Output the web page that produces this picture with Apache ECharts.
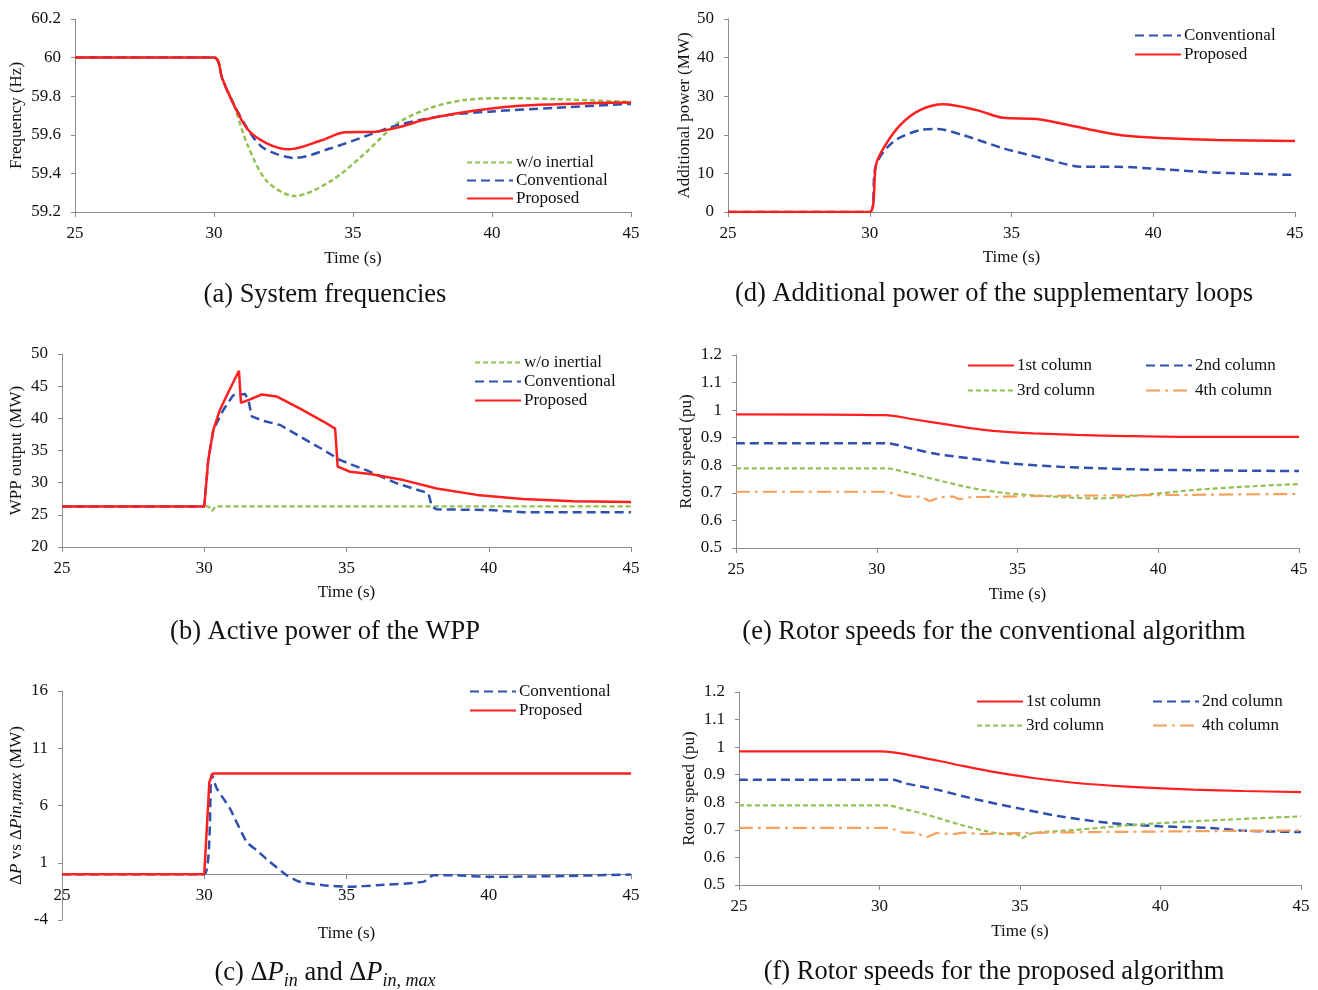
<!DOCTYPE html>
<html>
<head>
<meta charset="utf-8">
<script src="https://cdn.jsdelivr.net/npm/echarts@6/dist/echarts.min.js"></script>
<style>
  html, body { margin: 0; padding: 0; background: #fff; }
  #main { width: 1318px; height: 990px; }
</style>
</head>
<body>
<div id="main"></div>
<script>
  // (a) system frequencies
  let aTimeWo = [25, 30, 30.3, 30.7, 31.2, 31.9, 32.9, 34.2, 35.4, 36.6, 37.8, 39, 40.4, 42.3, 45]
  let aWo = [60, 60, 59.89, 59.76, 59.55, 59.36, 59.283, 59.36, 59.5, 59.66, 59.74, 59.78, 59.79, 59.785, 59.77]
  let aTimeConv = [25, 30, 30.3, 30.6, 31.3, 31.8, 32.9, 34.2, 35.4, 36.6, 38.3, 39.9, 42.3, 45]
  let aConv = [60, 60, 59.89, 59.79, 59.61, 59.53, 59.48, 59.53, 59.59, 59.65, 59.70, 59.72, 59.74, 59.76]
  let aTimeProp = [25, 30, 30.3, 30.6, 31.2, 31.9, 32.7, 33.9, 34.7, 35.8, 36.6, 37.5, 38.7, 39.9, 41, 42.3, 43.5, 45]
  let aProp = [60, 60, 59.89, 59.79, 59.63, 59.556, 59.525, 59.573, 59.613, 59.616, 59.637, 59.675, 59.71, 59.735, 59.75, 59.758, 59.764, 59.768]

  // (d) additional power
  let dTimeConv = [25, 30, 30.22, 30.83, 31.77, 32.36, 33.3, 34.71, 36.12, 37.54, 38.71, 40.47, 42.24, 45]
  let dConv = [0, 0, 12.2, 18.2, 21.2, 21.5, 19.9, 16.5, 13.9, 11.7, 11.7, 11.0, 10.2, 9.6]
  let dTimeProp = [25, 30, 30.22, 30.48, 31.07, 31.77, 32.6, 33.77, 34.71, 35.89, 37.54, 38.95, 40.47, 42.24, 45]
  let dProp = [0, 0, 12.2, 16.5, 22.5, 26.4, 27.9, 26.4, 24.4, 24.1, 21.7, 19.8, 19.1, 18.65, 18.4]

  // (b) active power of the WPP
  let bTimeWo = [25, 30.15, 30.27, 30.4, 45]
  let bWo = [26.3, 26.3, 25.6, 26.3, 26.3]
  let bTimeConv = [25, 30, 30.14, 30.32, 30.67, 31.02, 31.43, 31.55, 31.67, 32.08, 32.67, 33.37, 34.19, 34.78, 35.72, 36.77, 37.88, 38.0, 38.17, 40.04, 41.2, 45]
  let bConv = [26.3, 26.3, 33.5, 38.2, 41.3, 43.6, 43.8, 42.9, 40.3, 39.6, 38.96, 37.15, 35.1, 33.5, 31.9, 29.9, 28.35, 26.3, 25.85, 25.75, 25.4, 25.4]
  let bTimeProp = [25, 30, 30.14, 30.32, 30.55, 30.85, 31.22, 31.29, 31.61, 32.02, 32.54, 33.37, 34.19, 34.6, 34.69, 35.13, 35.83, 37.0, 38.17, 39.58, 41.2, 42.97, 45]
  let bProp = [26.3, 26.3, 33.5, 38.2, 41.3, 44.1, 47.4, 42.4, 42.95, 43.7, 43.4, 41.5, 39.5, 38.4, 32.5, 31.7, 31.35, 30.4, 29.1, 28.1, 27.45, 27.1, 27.0]

  // (e) rotor speeds, conventional
  let eTime1 = [25, 30.3, 31.3, 32.36, 33.31, 34.38, 35.56, 37.1, 38.88, 41.24, 45]
  let e1 = [0.985, 0.982, 0.967, 0.95, 0.935, 0.923, 0.916, 0.91, 0.906, 0.903, 0.903]
  let eTime2 = [25, 30.35, 31.18, 32.13, 33.31, 34.73, 36.5, 38.88, 41.24, 45]
  let e2 = [0.88, 0.88, 0.862, 0.841, 0.825, 0.807, 0.795, 0.786, 0.782, 0.779]
  let eTime3 = [25, 30.3, 30.94, 32.13, 33.31, 34.5, 35.92, 37.7, 38.4, 39.82, 41.24, 43.0, 45]
  let e3 = [0.789, 0.789, 0.777, 0.747, 0.719, 0.70, 0.689, 0.68, 0.682, 0.696, 0.71, 0.722, 0.732]
  let eTime4 = [25, 30.3, 30.58, 31.06, 31.54, 31.89, 32.25, 32.7, 32.96, 33.31, 34.38, 35.92, 38.88, 41.24, 45]
  let e4 = [0.704, 0.704, 0.698, 0.686, 0.686, 0.671, 0.684, 0.686, 0.677, 0.684, 0.686, 0.689, 0.691, 0.693, 0.696]

  // (c) delta P in / delta P in,max
  let cTimeConv = [25, 30, 30.26, 30.44, 30.9, 31.49, 31.84, 32.31, 32.9, 33.37, 34.19, 35.13, 36.07, 37.7, 38.05, 38.87, 40.04, 42.4, 45]
  let cConv = [0, 0, 8.7, 7.5, 5.74, 2.82, 2.1, 1.07, -0.09, -0.67, -0.96, -1.1, -0.96, -0.67, -0.09, -0.1, -0.23, -0.17, -0.03]
  let cTimeProp = [25, 30, 30.18, 30.3, 45]
  let cProp = [0, 0, 8.06, 8.8, 8.8]

  // (f) rotor speeds, proposed
  let fTime1 = [25, 30.02, 30.49, 31.44, 32.63, 34.05, 35.47, 37.01, 38.8, 41.17, 42.95, 45]
  let f1 = [0.985, 0.985, 0.981, 0.964, 0.939, 0.91, 0.888, 0.87, 0.857, 0.846, 0.841, 0.837]
  let fTime2 = [25, 30.5, 30.85, 32.04, 33.46, 35.0, 36.42, 38.2, 39.98, 41.76, 42.95, 45]
  let f2 = [0.882, 0.882, 0.87, 0.846, 0.81, 0.777, 0.749, 0.725, 0.713, 0.707, 0.697, 0.692]
  let fTime3 = [25, 30.3, 30.73, 31.68, 32.86, 33.81, 34.4, 34.9, 35.06, 35.35, 35.83, 37.01, 38.8, 40.58, 42.36, 45]
  let f3 = [0.789, 0.789, 0.779, 0.755, 0.719, 0.695, 0.685, 0.684, 0.67, 0.685, 0.692, 0.70, 0.716, 0.728, 0.737, 0.749]
  let fTime4 = [25, 30.3, 30.49, 30.85, 31.3, 31.68, 32.04, 32.63, 32.99, 33.58, 35.24, 38.8, 45]
  let f4 = [0.707, 0.707, 0.702, 0.691, 0.689, 0.674, 0.688, 0.685, 0.69, 0.685, 0.689, 0.693, 0.698]

  let timeTicks = { min: 25, max: 45, interval: 5 }

  const FONT = "'Liberation Serif', 'Times New Roman', serif"
  const FS = 17
  const CAP = 26.5
  const RED = '#ff1f1f'
  const BLUE = '#3050ae'
  const GREEN = '#93c052'
  const ORANGE = '#f5a05c'
  const SOLID = 'solid'
  const DASH = [9, 5]
  const SHORT = [5, 3]
  const DASHDOT = [14, 5, 3, 5]

  function zip(t, v) {
    return t.map((x, i) => [x, v[i]])
  }

  function line(name, idx, t, v, color, width, type, smooth) {
    return {
      name: name,
      type: 'line',
      xAxisIndex: idx,
      yAxisIndex: idx,
      data: zip(t, v),
      symbol: 'none',
      smooth: smooth,
      lineStyle: { color: color, width: width, type: type },
      itemStyle: { color: color },
      z: color === RED ? 3 : 2
    }
  }

  function xAxis(idx, gap, offset) {
    return {
      type: 'value',
      gridIndex: idx,
      min: timeTicks.min,
      max: timeTicks.max,
      interval: timeTicks.interval,
      offset: offset || 0,
      name: 'Time (s)',
      nameLocation: 'middle',
      nameGap: gap,
      nameTextStyle: { fontFamily: FONT, fontSize: FS, color: '#111' },
      axisLine: { onZero: false, lineStyle: { color: '#8c8c8c', width: 1 } },
      axisTick: { show: true, length: 5, lineStyle: { color: '#8c8c8c' } },
      axisLabel: { fontFamily: FONT, fontSize: FS, color: '#111', margin: 13 },
      splitLine: { show: false }
    }
  }

  function yAxis(idx, min, max, interval, name, gap, rich) {
    let ax = {
      type: 'value',
      gridIndex: idx,
      min: min,
      max: max,
      interval: interval,
      name: name,
      nameLocation: 'middle',
      nameGap: gap,
      nameTextStyle: { fontFamily: FONT, fontSize: FS, color: '#111' },
      axisLine: { show: true, lineStyle: { color: '#8c8c8c', width: 1 } },
      axisTick: { show: true, length: 4, lineStyle: { color: '#8c8c8c' } },
      axisLabel: { fontFamily: FONT, fontSize: FS, color: '#111', margin: 14 },
      splitLine: { show: false }
    }
    if (rich) ax.nameTextStyle.rich = rich
    return ax
  }

  function legend(names, left, top, gap) {
    return {
      data: names,
      orient: 'vertical',
      left: left,
      top: top,
      itemWidth: 46,
      itemHeight: 10,
      itemGap: gap,
      selectedMode: false,
      itemStyle: { opacity: 0 },
      textStyle: { fontFamily: FONT, fontSize: FS, color: '#111', padding: [0, 0, 0, -2] }
    }
  }

  function caption(text, x, y) {
    return {
      type: 'text',
      x: x,
      y: y,
      style: {
        text: text,
        fontFamily: FONT,
        fontSize: CAP,
        fill: '#111',
        align: 'center',
        verticalAlign: 'middle',
        rich: {
          n: { fontFamily: FONT, fontSize: CAP, fill: '#111', lineHeight: 34 },
          i: { fontFamily: FONT, fontSize: CAP, fill: '#111', fontStyle: 'italic', lineHeight: 34 },
          s: { fontFamily: FONT, fontSize: 18, fill: '#111', fontStyle: 'italic', lineHeight: 34, verticalAlign: 'bottom' }
        }
      }
    }
  }

  let myChart = echarts.init(document.getElementById('main'), null, { renderer: 'canvas' })

  let option = {
    animation: false,
    backgroundColor: '#fff',
    grid: [
      { left: 75, top: 19, width: 556, height: 193 },
      { left: 728, top: 19, width: 567, height: 193 },
      { left: 62, top: 354, width: 569, height: 193 },
      { left: 736, top: 355, width: 563, height: 193 },
      { left: 62, top: 691, width: 569, height: 229 },
      { left: 739, top: 692, width: 562, height: 193 }
    ],
    xAxis: [
      xAxis(0, 38), xAxis(1, 37), xAxis(2, 37), xAxis(3, 38), xAxis(4, 51, -46), xAxis(5, 38)
    ],
    yAxis: [
      yAxis(0, 59.2, 60.2, 0.2, 'Frequency (Hz)', 50),
      yAxis(1, 0, 50, 10, 'Additional power (MW)', 35),
      yAxis(2, 20, 50, 5, 'WPP output (MW)', 37),
      yAxis(3, 0.5, 1.2, 0.1, 'Rotor speed (pu)', 41),
      yAxis(4, -4, 16, 5, '{n|Δ}{i|P}{n| vs Δ}{i|Pin,max}{n| (MW)}', 37, {
        n: { fontFamily: FONT, fontSize: FS, color: '#111' },
        i: { fontFamily: FONT, fontSize: FS, color: '#111', fontStyle: 'italic' }
      }),
      yAxis(5, 0.5, 1.2, 0.1, 'Rotor speed (pu)', 41)
    ],
    legend: [
      legend(['w/o inertial', 'Conventional', 'Proposed'], 461, 149, 1),
      legend(['Conventional ', 'Proposed '], 1129, 22, 2),
      legend(['w/o inertial  ', 'Conventional  ', 'Proposed  '], 469, 349, 2),
      legend(['1st column', '3rd column'], 962, 352, 8),
      legend(['2nd column', '4th column'], 1140, 352, 8),
      legend(['Conventional   ', 'Proposed   '], 464, 678, 2),
      legend(['1st column ', '3rd column '], 971, 688, 7),
      legend(['2nd column ', '4th column '], 1147, 688, 7)
    ],
    graphic: [
      caption('(a) System frequencies', 325, 295),
      caption('(d) Additional power of the supplementary loops', 994, 294),
      caption('(b) Active power of the WPP', 325, 632),
      caption('(e) Rotor speeds for the conventional algorithm', 994, 632),
      caption('{n|(c) Δ}{i|P}{s|in}{n| and Δ}{i|P}{s|in, max}', 325, 973),
      caption('(f) Rotor speeds for the proposed algorithm', 994, 972)
    ],
    series: [
      line('w/o inertial', 0, aTimeWo, aWo, GREEN, 2.5, SHORT, 0.3),
      line('Conventional', 0, aTimeConv, aConv, BLUE, 2.5, DASH, 0.3),
      line('Proposed', 0, aTimeProp, aProp, RED, 2.5, SOLID, 0.3),

      line('Conventional ', 1, dTimeConv, dConv, BLUE, 2.5, DASH, 0.3),
      line('Proposed ', 1, dTimeProp, dProp, RED, 2.5, SOLID, 0.3),

      line('w/o inertial  ', 2, bTimeWo, bWo, GREEN, 2.2, SHORT, false),
      line('Conventional  ', 2, bTimeConv, bConv, BLUE, 2.5, DASH, false),
      line('Proposed  ', 2, bTimeProp, bProp, RED, 2.5, SOLID, false),

      line('1st column', 3, eTime1, e1, RED, 2.2, SOLID, 0.3),
      line('2nd column', 3, eTime2, e2, BLUE, 2.5, DASH, 0.3),
      line('3rd column', 3, eTime3, e3, GREEN, 2.2, SHORT, 0.3),
      line('4th column', 3, eTime4, e4, ORANGE, 2.2, DASHDOT, 0.3),

      line('Conventional   ', 4, cTimeConv, cConv, BLUE, 2.5, DASH, 0.2),
      line('Proposed   ', 4, cTimeProp, cProp, RED, 2.5, SOLID, false),

      line('1st column ', 5, fTime1, f1, RED, 2.2, SOLID, 0.3),
      line('2nd column ', 5, fTime2, f2, BLUE, 2.5, DASH, 0.3),
      line('3rd column ', 5, fTime3, f3, GREEN, 2.2, SHORT, 0.3),
      line('4th column ', 5, fTime4, f4, ORANGE, 2.2, DASHDOT, 0.3)
    ]
  }

  myChart.setOption(option)
</script>
</body>
</html>
